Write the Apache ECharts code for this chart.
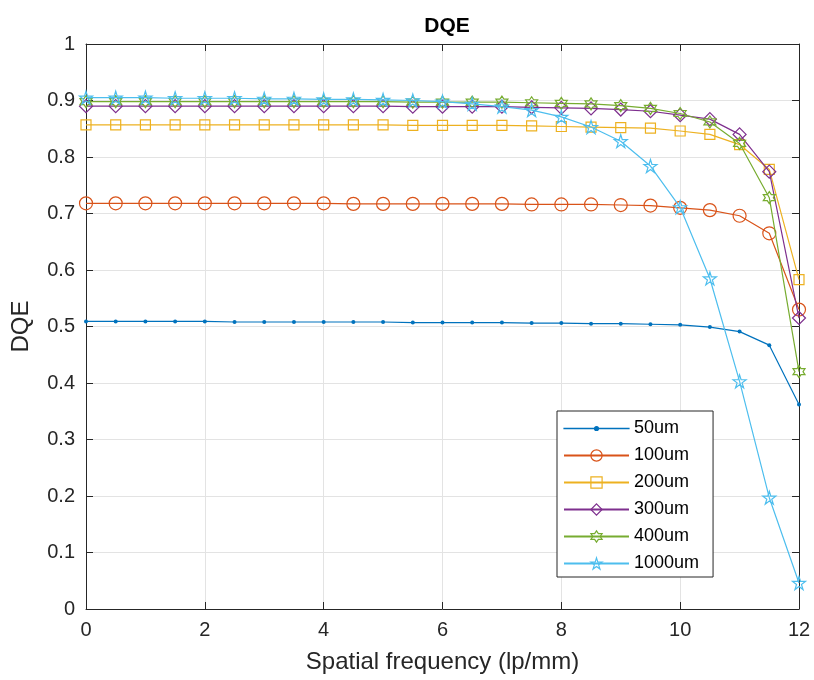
<!DOCTYPE html>
<html lang="en">
<head>
  <meta charset="UTF-8">
  <title>DQE</title>
  <style>
    html, body { margin: 0; padding: 0; background: #fff; }
    #chart { width: 814px; height: 680px; }
  </style>
</head>
<body>
  <div id="chart"></div>
  <script src="https://cdn.jsdelivr.net/npm/echarts@6/dist/echarts.min.js"></script>
  <script>
    // spatial frequency, lp/mm
    var freq = [0, 0.5, 1, 1.5, 2, 2.5, 3, 3.5, 4, 4.5, 5, 5.5, 6, 6.5, 7, 7.5, 8, 8.5, 9, 9.5, 10, 10.5, 11, 11.5, 12]

    var dqe50 = [0.509, 0.509, 0.509, 0.509, 0.509, 0.508, 0.508, 0.508, 0.508, 0.508, 0.508, 0.507, 0.507, 0.507, 0.507, 0.506, 0.506, 0.505, 0.505, 0.504, 0.503, 0.499, 0.491, 0.467, 0.362]
    var dqe100 = [0.718, 0.718, 0.718, 0.718, 0.718, 0.718, 0.718, 0.718, 0.718, 0.717, 0.717, 0.717, 0.717, 0.717, 0.717, 0.716, 0.716, 0.716, 0.715, 0.714, 0.710, 0.706, 0.696, 0.665, 0.530]
    var dqe200 = [0.857, 0.857, 0.857, 0.857, 0.857, 0.857, 0.857, 0.857, 0.857, 0.857, 0.857, 0.856, 0.856, 0.856, 0.856, 0.855, 0.854, 0.853, 0.852, 0.851, 0.846, 0.840, 0.822, 0.778, 0.583]
    var dqe300 = [0.890, 0.890, 0.890, 0.890, 0.890, 0.890, 0.890, 0.890, 0.890, 0.890, 0.890, 0.889, 0.889, 0.889, 0.889, 0.888, 0.887, 0.886, 0.884, 0.881, 0.874, 0.867, 0.840, 0.774, 0.515]
    var dqe400 = [0.898, 0.898, 0.898, 0.898, 0.898, 0.898, 0.898, 0.898, 0.898, 0.898, 0.898, 0.897, 0.897, 0.897, 0.897, 0.896, 0.895, 0.894, 0.891, 0.886, 0.877, 0.862, 0.824, 0.728, 0.420]
    var dqe1000 = [0.905, 0.905, 0.905, 0.904, 0.904, 0.904, 0.903, 0.903, 0.902, 0.902, 0.901, 0.900, 0.898, 0.894, 0.889, 0.883, 0.871, 0.853, 0.828, 0.784, 0.711, 0.585, 0.403, 0.197, 0.046]

    var names = ['50um', '100um', '200um', '300um', '400um', '1000um']
    var colors = ['#0072BD', '#D95319', '#EDB120', '#7E2F8E', '#77AC30', '#4DBEEE']

    // marker shapes (matlab style: . o s d h p)
    var pentagram = 'path://M0,-100 L22,-31 L95,-31 L36,12 L59,81 L0,38 L-59,81 L-36,12 L-95,-31 L-22,-31 Z'
    var hexagram = 'path://M0,-100 L29,-50 L87,-50 L58,0 L87,50 L29,50 L0,100 L-29,50 L-87,50 L-58,0 L-87,-50 L-29,-50 Z'
    var symbols = ['circle', 'circle', 'rect', 'diamond', hexagram, pentagram]
    var sizes = [4, 13, 10, 13, 12, 13]
    // legend icon for the '.' marker: thin line with a small dot, padded to a 65x14 box
    var dotLineIcon = 'path://M0,0 L0,0 M0,6.9 L65,6.9 L65,7.1 L0,7.1 Z M30.5,7 A2,2 0 1,1 34.5,7 A2,2 0 1,1 30.5,7 Z M0,14 L0,14'

    function pairs(ys) {
      return freq.map(function (x, i) { return [x, ys[i]] })
    }

    var allData = [dqe50, dqe100, dqe200, dqe300, dqe400, dqe1000]

    var series = allData.map(function (ys, i) {
      var filled = i === 0
      return {
        name: names[i],
        type: 'line',
        data: pairs(ys),
        symbol: symbols[i],
        symbolSize: sizes[i],
        showAllSymbol: true,
        lineStyle: { color: colors[i], width: 1.2 },
        itemStyle: {
          color: filled ? colors[i] : 'rgba(255,255,255,0)',
          borderColor: colors[i],
          borderWidth: filled ? 0 : 1.2
        },
        emphasis: { disabled: true },
        animation: false,
        z: 2 + i
      }
    })

    var legendData = names.map(function (n, i) {
      return i === 0 ? { name: n, icon: dotLineIcon } : { name: n }
    })

    var axisFont = { fontFamily: 'Liberation Sans', fontSize: 20, color: '#262626' }
    var gridLine = { show: true, lineStyle: { color: '#e3e3e3', width: 1 } }
    var edge = { show: true, onZero: false, lineStyle: { color: '#262626', width: 1 } }
    var tick = { show: true, inside: true, length: 7, lineStyle: { color: '#262626' } }

    var chart = echarts.init(document.getElementById('chart'), null, { renderer: 'canvas' })
    var option = {
      animation: false,
      title: {
        text: 'DQE',
        left: 442,
        top: 11,
        textAlign: 'center',
        textStyle: { fontFamily: 'Liberation Sans', fontSize: 21, fontWeight: 'bold', color: '#000' }
      },
      grid: { left: 86, right: 15, top: 44, bottom: 71 },
      legend: {
        orient: 'vertical',
        left: 557,
        top: 411,
        padding: [8, 14, 4, 6],
        itemWidth: 65,
        itemHeight: 14,
        itemGap: 8,
        backgroundColor: '#fff',
        borderColor: '#262626',
        borderWidth: 1,
        borderRadius: 0,
        itemStyle: { borderWidth: 1.2 },
        textStyle: { fontFamily: 'Liberation Sans', fontSize: 18, lineHeight: 19, color: '#000' },
        data: legendData
      },
      xAxis: [{
        type: 'value',
        min: 0,
        max: 12,
        interval: 2,
        name: 'Spatial frequency (lp/mm)',
        nameLocation: 'middle',
        nameGap: 41,
        nameTextStyle: { fontFamily: 'Liberation Sans', fontSize: 24, color: '#262626' },
        axisLine: edge,
        axisTick: tick,
        axisLabel: Object.assign({ margin: 11 }, axisFont),
        splitLine: gridLine
      }, {
        type: 'value',
        position: 'top',
        min: 0,
        max: 12,
        interval: 2,
        axisLine: edge,
        axisTick: tick,
        axisLabel: { show: false },
        splitLine: { show: false }
      }],
      yAxis: [{
        type: 'value',
        min: 0,
        max: 1,
        interval: 0.1,
        name: 'DQE',
        nameLocation: 'middle',
        nameGap: 53,
        nameTextStyle: { fontFamily: 'Liberation Sans', fontSize: 24, color: '#262626' },
        axisLine: edge,
        axisTick: tick,
        axisLabel: Object.assign({
          margin: 11,
          formatter: function (v) { return v === 0 || v === 1 ? String(v) : v.toFixed(1) }
        }, axisFont),
        splitLine: gridLine
      }, {
        type: 'value',
        position: 'right',
        min: 0,
        max: 1,
        interval: 0.1,
        axisLine: edge,
        axisTick: tick,
        axisLabel: { show: false },
        splitLine: { show: false }
      }],
      series: series
    }
    chart.setOption(option)
  </script>
</body>
</html>
